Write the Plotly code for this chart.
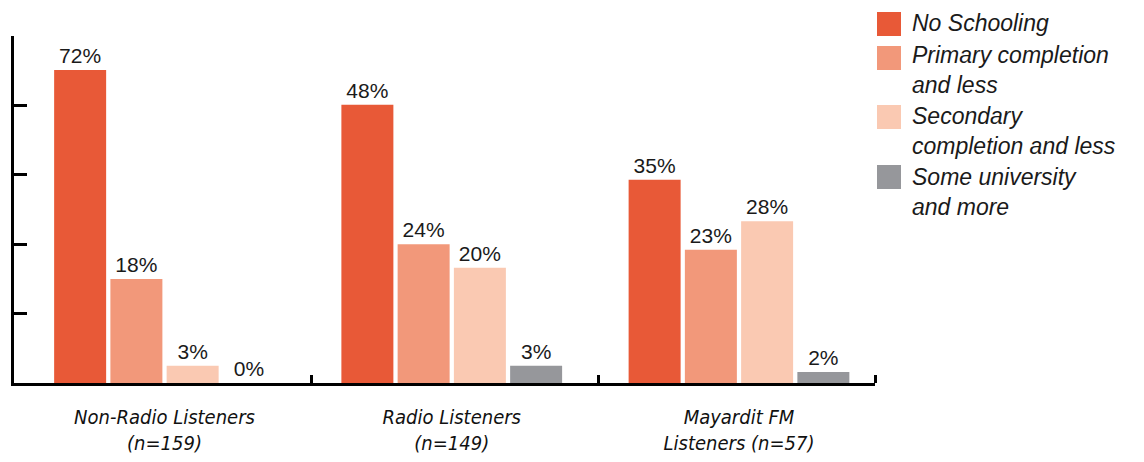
import plotly.graph_objects as go

# ---- data (bar heights, scale 0-50 with ticks every 10) ----
categories = ["Non-Radio Listeners<br>(n=159)", "Radio Listeners<br>(n=149)", "Mayardit FM<br>Listeners (n=57)"]
series_names = ["No Schooling", "Primary completion<br>and less", "Secondary<br>completion and less", "Some university<br>and more"]
no_schooling = [45.1, 40.1, 29.3]
primary = [15.0, 20.0, 19.2]
secondary = [2.5, 16.6, 23.3]
university = [0.0, 2.5, 1.6]
no_schooling_lbl = ["72%", "48%", "35%"]
primary_lbl = ["18%", "24%", "23%"]
secondary_lbl = ["3%", "20%", "28%"]
university_lbl = ["0%", "3%", "2%"]
colors = ["#E85937", "#F2987A", "#FAC9B2", "#96979B"]
y_ticks = [0, 10, 20, 30, 40, 50]

W, H = 1144, 462
L, R, T, B = 14, 269, 36, 79
PW, PH = W - L - R, H - T - B

x_idx = list(range(len(categories)))
values = [no_schooling, primary, secondary, university]
labels = [no_schooling_lbl, primary_lbl, secondary_lbl, university_lbl]

fig = go.Figure()
for name, vals, lbl, col in zip(series_names, values, labels, colors):
    fig.add_trace(go.Bar(
        x=x_idx, y=vals, name=name.replace("<br>", " "),
        marker=dict(color=col, line=dict(width=0)),
        text=lbl, textposition="outside", constraintext="none",
        textfont=dict(family="Liberation Sans, Arial, sans-serif", size=21, color="#1a1a1a"),
        cliponaxis=False, showlegend=False,
    ))

fig.update_layout(
    width=W, height=H,
    margin=dict(l=L, r=R, t=T, b=B, autoexpand=False),
    paper_bgcolor="white", plot_bgcolor="white",
    barmode="group", bargap=0.2167, bargroupgap=0.0756,
    font=dict(family="Liberation Sans, Arial, sans-serif", color="#1a1a1a"),
    xaxis=dict(
        range=[-0.524, 2.4735], tickvals=x_idx, ticktext=categories,
        ticks="", showgrid=False, zeroline=False,
        showline=True, linecolor="black", linewidth=3,
        tickfont=dict(family="DejaVu Sans Condensed, Liberation Sans Narrow, Liberation Sans", size=20, color="#111111", style="italic"),
        ticklabelstandoff=14,
        minor=dict(tickvals=[0.51, 1.51, 2.4735], ticks="inside", ticklen=8, tickwidth=3, tickcolor="black", showgrid=False),
    ),
    yaxis=dict(
        range=[0, 50], tickvals=y_ticks, showticklabels=False,
        ticks="inside", ticklen=13, tickwidth=3, tickcolor="black",
        showgrid=False, zeroline=False,
        showline=True, linecolor="black", linewidth=3,
    ),
)

# ---- manual legend (large swatches as in the reference) ----
def px_x(px):
    return (px - L) / PW
def px_y(py):
    return (H - B - py) / PH

legend_rows = [(12, 23), (46, 70), (105, 131), (165, 192)]
for (sq_top, txt_mid), name, col in zip(legend_rows, series_names, colors):
    fig.add_shape(type="rect", xref="paper", yref="paper",
                  x0=px_x(877), x1=px_x(901), y0=px_y(sq_top + 24), y1=px_y(sq_top),
                  fillcolor=col, line=dict(width=0))
    fig.add_annotation(xref="paper", yref="paper", x=px_x(910), y=px_y(txt_mid),
                       xanchor="left", yanchor="middle", showarrow=False, align="left",
                       text=name,
                       font=dict(family="Liberation Sans, Arial, sans-serif", size=23, color="#1a1a1a", style="italic"))

fig.write_html("out.html", config={"displayModeBar": False},
               post_script="document.body.style.margin='0';document.body.style.overflow='hidden';")
